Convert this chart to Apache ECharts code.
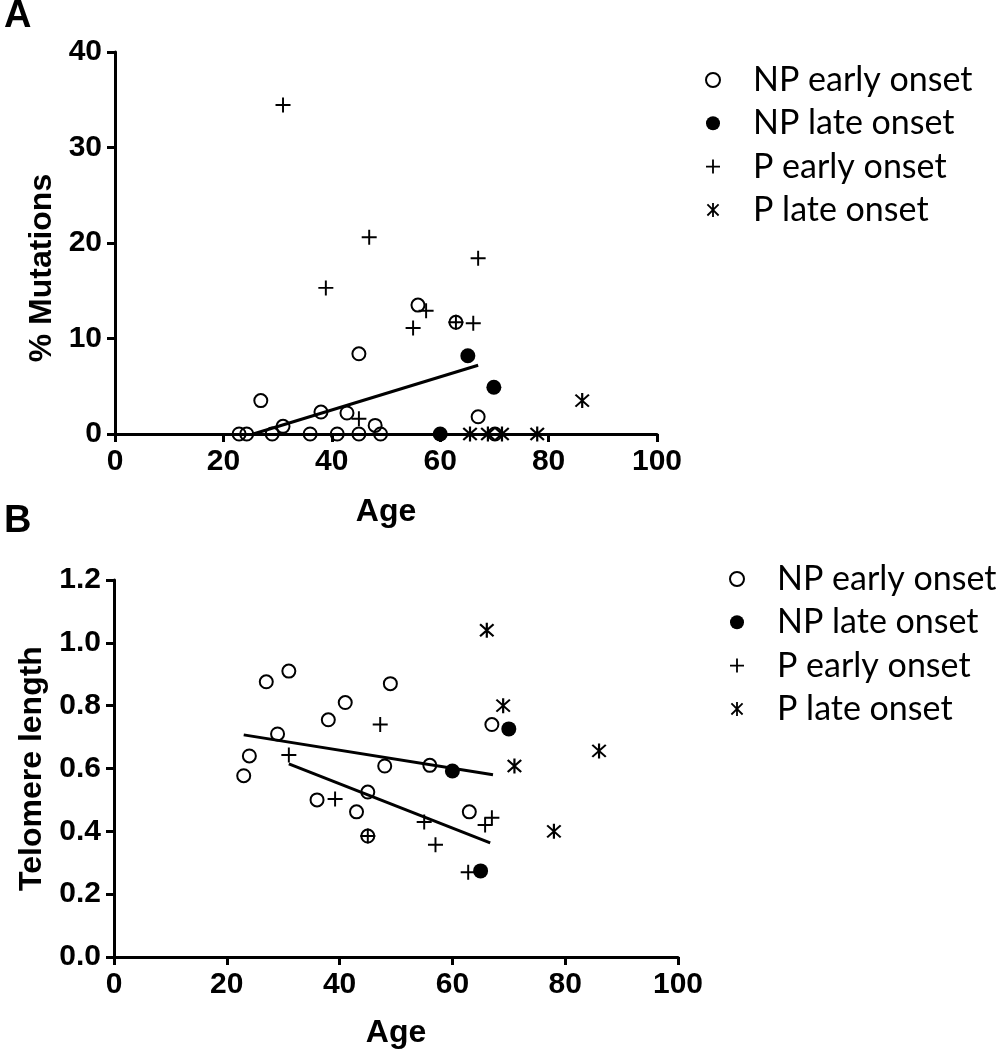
<!DOCTYPE html>
<html><head><meta charset="utf-8">
<script src="https://cdn.jsdelivr.net/npm/echarts/dist/echarts.min.js"></script>
<style>html,body{margin:0;padding:0;background:#fff}#c{width:1003px;height:1050px}</style>
</head><body><div id="c"></div>
<script>
// ---- Data (age, value) ----
const seriesNames = ['NP early onset', 'NP late onset', 'P early onset', 'P late onset'];
// Panel A: % Mutations vs Age
const npEarlyA = [[22.9,0],[24.3,0],[26.9,3.5],[29,0],[31,0.8],[36,0],[38,2.3],[41,0],[42.8,2.2],[45,8.4],[45,0],[48,0.9],[49,0],[55.9,13.5],[62.9,11.7],[67,1.8],[70.1,0]];
const npLateA = [[60,0],[65.1,8.2],[69.9,4.9]];
const pEarlyA = [[31,34.45],[38.9,15.3],[45,1.6],[46.9,20.6],[55,11.1],[57.4,12.9],[62.9,11.7],[66.1,11.6],[67,18.4]];
const pLateA = [[65.5,0],[68.8,0],[71.4,0],[77.9,0],[86.2,3.5]];
const fitA = [[25.5,0],[67,7.2]];
// Panel B: Telomere length vs Age
const npEarlyB = [[23,0.577],[24,0.64],[27,0.876],[29,0.71],[31,0.91],[36,0.5],[38,0.755],[41,0.81],[43,0.462],[45,0.525],[45,0.385],[48,0.608],[49,0.87],[56,0.61],[63,0.462],[67,0.74]];
const npLateB = [[60,0.592],[65,0.274],[70,0.726]];
const pEarlyB = [[31,0.643],[39.2,0.503],[45,0.385],[47.2,0.74],[55,0.43],[57,0.357],[62.8,0.27],[65.8,0.42],[67,0.443]];
const pLateB = [[66.1,1.04],[69,0.8],[71,0.608],[78,0.40],[86,0.656]];
const fitB1 = [[23,0.707],[67.2,0.58]];
const fitB2 = [[31,0.615],[66.7,0.363]];
// Axis ticks
const xTicks = {min:0, max:100, interval:20};
const yTicksA = {min:0, max:40, interval:10};
const yTicksB = {min:0, max:1.2, interval:0.2};

const NUMFONT = "'Liberation Sans', Arial, sans-serif";
const TITLEFONT = "'Liberation Sans', Arial, sans-serif";
const LEGFONT = "Lato, 'Open Sans', sans-serif";
const plusPath = 'path://M8.7,0h2.6v20h-2.6zM0,8.7h20v2.6h-20z';
const starPath = 'path://M8.7,0L11.3,0L11.3,20L8.7,20Z M2.9,1.1L18.9,17.1L17.1,18.9L1.1,2.9Z M18.9,2.9L2.9,18.9L1.1,17.1L17.1,1.1Z';

function styleFor(name){
  switch(name){
    case 'NP early onset': return {symbol:'circle', symbolSize:13, itemStyle:{color:'rgba(255,255,255,0)', borderColor:'#000', borderWidth:2, opacity:1}};
    case 'NP late onset': return {symbol:'circle', symbolSize:15, itemStyle:{color:'#000', borderWidth:0, opacity:1}};
    case 'P early onset': return {symbol:plusPath, symbolSize:15, itemStyle:{color:'#000', opacity:1}};
    default: return {symbol:starPath, symbolSize:15, itemStyle:{color:'#000', opacity:1}};
  }
}
function scat(name, data, idx){
  return Object.assign({type:'scatter', name, data, xAxisIndex:idx, yAxisIndex:idx, z:3, silent:true}, styleFor(name));
}
function fit(data, idx){
  return {type:'line', data, xAxisIndex:idx, yAxisIndex:idx, symbol:'none', silent:true, z:4,
          lineStyle:{color:'#000', width:3}};
}
function xAxis(idx, gap){
  return {type:'value', gridIndex:idx, min:xTicks.min, max:xTicks.max, interval:xTicks.interval,
    name:'Age', nameLocation:'middle', nameGap:gap,
    nameTextStyle:{fontFamily:TITLEFONT, fontWeight:'bold', fontSize:32, color:'#000'},
    axisLine:{show:true, onZero:false, lineStyle:{color:'#000', width:3}},
    axisTick:{show:true, inside:false, length:8, lineStyle:{color:'#000', width:3}},
    axisLabel:{show:true, margin:13, fontFamily:NUMFONT, fontWeight:'bold', fontSize:30, color:'#000'},
    splitLine:{show:false}};
}
function yAxis(idx, t, name, gap, pad, fmt){
  return {type:'value', gridIndex:idx, min:t.min, max:t.max, interval:t.interval,
    name, nameLocation:'middle', nameGap:gap,
    nameTextStyle:{fontFamily:TITLEFONT, fontWeight:'bold', fontSize:32, color:'#000', padding:pad},
    axisLine:{show:true, onZero:false, lineStyle:{color:'#000', width:3}},
    axisTick:{show:true, inside:false, length:8, lineStyle:{color:'#000', width:3}},
    axisLabel:{show:true, margin:13, fontFamily:NUMFONT, fontWeight:'bold', fontSize:30, color:'#000', formatter:fmt},
    splitLine:{show:false}};
}
function legend(left, top){
  return {show:true, orient:'vertical', left, top, data:seriesNames, selectedMode:false,
    itemWidth:70, itemHeight:14, itemGap:9.3,
    textStyle:{fontFamily:LEGFONT, fontSize:34, color:'#000', lineHeight:34}};
}

const chart = echarts.init(document.getElementById('c'), null, {renderer:'canvas'});
chart.setOption({
  backgroundColor:'#fff',
  animation:false,
  grid:[
    {left:115, top:52, width:542, height:382, containLabel:false, outerBoundsMode:'none'},
    {left:114, top:580, width:564, height:377, containLabel:false, outerBoundsMode:'none'}
  ],
  xAxis:[xAxis(0, 62), xAxis(1, 60)],
  yAxis:[
    yAxis(0, yTicksA, '% Mutations', 50, [0,50,0,0], v => String(v)),
    yAxis(1, yTicksB, 'Telomere length', 64, [0,0,0,0], v => v.toFixed(1))
  ],
  legend:[legend(700, 58), legend(724, 557)],
  graphic:[
    {type:'text', left:4, top:-2, style:{text:'A', font:'bold 38px ' + TITLEFONT, fill:'#000'}},
    {type:'text', left:4, top:503, style:{text:'B', font:'bold 38px ' + TITLEFONT, fill:'#000'}}
  ],
  series:[
    scat('NP early onset', npEarlyA, 0), scat('NP late onset', npLateA, 0),
    scat('P early onset', pEarlyA, 0), scat('P late onset', pLateA, 0),
    fit(fitA, 0),
    scat('NP early onset', npEarlyB, 1), scat('NP late onset', npLateB, 1),
    scat('P early onset', pEarlyB, 1), scat('P late onset', pLateB, 1),
    fit(fitB1, 1), fit(fitB2, 1)
  ]
});
</script></body></html>
